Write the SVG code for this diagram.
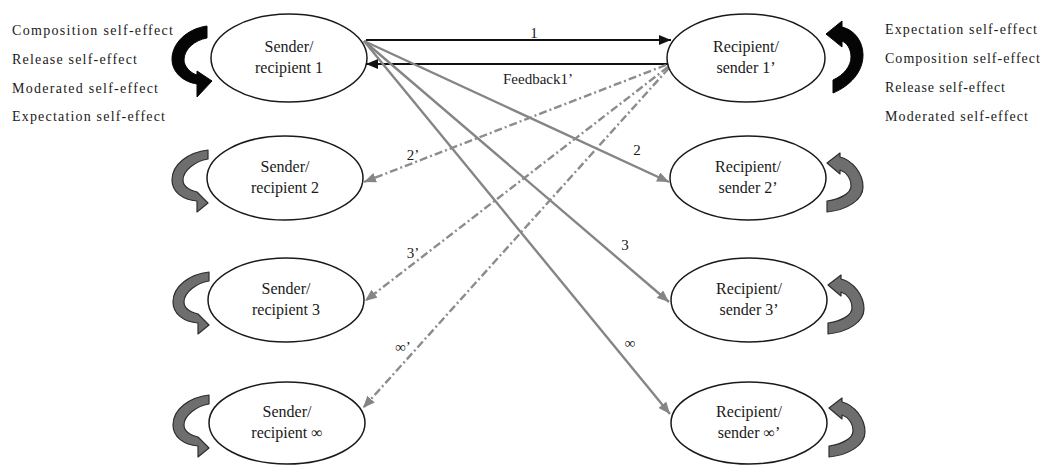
<svg xmlns="http://www.w3.org/2000/svg" width="1048" height="466" viewBox="0 0 1048 466">
  <style>
    .node ellipse { fill: #ffffff; stroke: #1a1a1a; stroke-width: 1.5; }
    .node text { font-family: "Liberation Serif"; font-size: 16px; fill: #1a1a1a; text-anchor: middle; }
    .lbl { font-family: "Liberation Serif"; font-size: 14px; fill: #1a1a1a; }
    .elbl { font-family: "Liberation Serif"; font-size: 15px; fill: #1a1a1a; text-anchor: middle; }
    .black-line { stroke: #111111; stroke-width: 2; fill: none; }
    .grey-line { stroke: #858585; stroke-width: 2.4; fill: none; }
    .grey-dash { stroke: #8c8c8c; stroke-width: 2.4; fill: none; stroke-dasharray: 8 3 2 3; }
    .loop-black { fill: #050505; stroke: #050505; stroke-width: 1; }
    .loop-grey { fill: #6e6e6e; stroke: #2e2e2e; stroke-width: 1.2; stroke-linejoin: round; }
  </style>
  <defs>
    <marker id="ah-black" viewBox="0 0 12 10" refX="12" refY="5" markerWidth="12" markerHeight="10" markerUnits="userSpaceOnUse" orient="auto">
      <path d="M0,0 L12,5 L0,10 Z" fill="#111111"/>
    </marker>
    <marker id="ah-grey" viewBox="0 0 12 10" refX="12" refY="5" markerWidth="12" markerHeight="10" markerUnits="userSpaceOnUse" orient="auto">
      <path d="M0,0 L12,5 L0,10 Z" fill="#858585"/>
    </marker>
    <!-- self-effect loop on the left side of a node, tip at origin x, origin y = node centre -->
    <path id="loop-left" d="M 1 -28 C -18 -26, -35 -14, -35 2 C -35 14, -24 22, -10 23 L -10 34 L 1 25 L -10 14 L -10 14 C -18 12, -24 8, -24 2 C -24 -8, -11 -17, 1 -19 Z"/>
    <!-- self-effect loop on the right side of a node -->
    <path id="loop-right" d="M 0 -15 L 13 -25 L 13 -21 C 25 -18, 36 -5, 36 9 C 36 22, 20 32, 0 34 L 0 23 C 14 21, 24 15, 24 8 C 24 0, 19 -6, 13 -8 L 13 -4 Z"/>
  </defs>

  <!-- self-effect labels -->
  <g id="labels-left">
    <text class="lbl" x="12" y="35" textLength="161" lengthAdjust="spacing">Composition self-effect</text>
    <text class="lbl" x="12" y="64" textLength="125" lengthAdjust="spacing">Release self-effect</text>
    <text class="lbl" x="12" y="93" textLength="146" lengthAdjust="spacing">Moderated self-effect</text>
    <text class="lbl" x="12" y="121" textLength="153" lengthAdjust="spacing">Expectation self-effect</text>
  </g>
  <g id="labels-right">
    <text class="lbl" x="885" y="34" textLength="152" lengthAdjust="spacing">Expectation self-effect</text>
    <text class="lbl" x="885" y="63" textLength="155" lengthAdjust="spacing">Composition self-effect</text>
    <text class="lbl" x="885" y="92" textLength="120" lengthAdjust="spacing">Release self-effect</text>
    <text class="lbl" x="885" y="121" textLength="143" lengthAdjust="spacing">Moderated self-effect</text>
  </g>

  <!-- self-effect loops -->
  <g id="loops">
    <path class="loop-black" d="M 207 26 C 186 29, 172 44, 172 59 C 172 73, 184 82, 197 84 L 197 97 L 212 81 L 197 71 L 197 75 C 190 73, 184 66, 184 60 C 184 49, 195 40, 207 38 Z"/>
    <path class="loop-black" d="M 826 34 L 842 21 L 842 27 C 855 30, 863 42, 863 55 C 863 72, 850 86, 833 93 L 833 80 C 844 75, 851 66, 851 57 C 851 49, 847 43, 842 41 L 842 47 Z"/>
    <use href="#loop-left" class="loop-grey" transform="translate(207,178)"/>
    <use href="#loop-left" class="loop-grey" transform="translate(208,300)"/>
    <use href="#loop-left" class="loop-grey" transform="translate(208,423)"/>
    <use href="#loop-right" class="loop-grey" transform="translate(827,178)"/>
    <use href="#loop-right" class="loop-grey" transform="translate(828,300)"/>
    <use href="#loop-right" class="loop-grey" transform="translate(829,423)"/>
  </g>

  <!-- connectors -->
  <g id="connectors">
    <line class="black-line" x1="366" y1="40" x2="671" y2="40" marker-end="url(#ah-black)"/>
    <line class="black-line" x1="669" y1="64" x2="366" y2="64" marker-end="url(#ah-black)"/>

    <line class="grey-line" x1="364" y1="41" x2="669" y2="182" marker-end="url(#ah-grey)"/>
    <line class="grey-line" x1="364" y1="41" x2="669" y2="302" marker-end="url(#ah-grey)"/>
    <line class="grey-line" x1="364" y1="41" x2="670" y2="414" marker-end="url(#ah-grey)"/>

    <line class="grey-dash" x1="666" y1="65" x2="364" y2="182" marker-end="url(#ah-grey)"/>
    <line class="grey-dash" x1="668" y1="67" x2="365" y2="301" marker-end="url(#ah-grey)"/>
    <line class="grey-dash" x1="669" y1="68" x2="363" y2="408" marker-end="url(#ah-grey)"/>

    <text class="elbl" x="534" y="38">1</text>
    <text class="elbl" x="538" y="84" textLength="70" lengthAdjust="spacing">Feedback1’</text>
    <text class="elbl" x="637" y="155">2</text>
    <text class="elbl" x="625" y="250">3</text>
    <text class="elbl" x="630" y="348">∞</text>
    <text class="elbl" x="413" y="160">2’</text>
    <text class="elbl" x="413" y="258">3’</text>
    <text class="elbl" x="403" y="352">∞’</text>
  </g>

  <!-- nodes -->
  <g id="node-s1" class="node">
    <ellipse cx="289" cy="58" rx="78" ry="44"/>
    <text x="289" y="52">Sender/</text>
    <text x="289" y="73">recipient 1</text>
  </g>
  <g id="node-s2" class="node">
    <ellipse cx="285" cy="178" rx="78" ry="42"/>
    <text x="285" y="172">Sender/</text>
    <text x="285" y="193">recipient 2</text>
  </g>
  <g id="node-s3" class="node">
    <ellipse cx="286" cy="300" rx="78" ry="42"/>
    <text x="286" y="294">Sender/</text>
    <text x="286" y="315">recipient 3</text>
  </g>
  <g id="node-sinf" class="node">
    <ellipse cx="287" cy="423" rx="78" ry="41"/>
    <text x="287" y="417">Sender/</text>
    <text x="287" y="438">recipient ∞</text>
  </g>
  <g id="node-r1" class="node">
    <ellipse cx="746" cy="58" rx="79" ry="44"/>
    <text x="746" y="52">Recipient/</text>
    <text x="746" y="73">sender 1’</text>
  </g>
  <g id="node-r2" class="node">
    <ellipse cx="748" cy="178" rx="78" ry="42"/>
    <text x="748" y="172">Recipient/</text>
    <text x="748" y="193">sender 2’</text>
  </g>
  <g id="node-r3" class="node">
    <ellipse cx="749" cy="300" rx="78" ry="42"/>
    <text x="749" y="294">Recipient/</text>
    <text x="749" y="315">sender 3’</text>
  </g>
  <g id="node-rinf" class="node">
    <ellipse cx="749" cy="423" rx="78" ry="41"/>
    <text x="749" y="417">Recipient/</text>
    <text x="749" y="438">sender ∞’</text>
  </g>
</svg>
